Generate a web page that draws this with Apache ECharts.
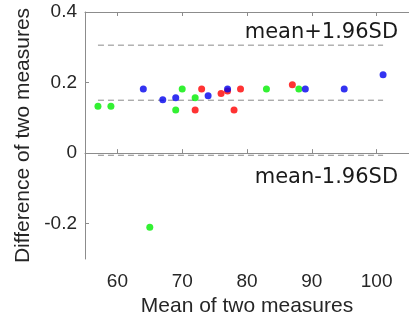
<!DOCTYPE html>
<html>
<head>
<meta charset="utf-8">
<script src="https://cdn.jsdelivr.net/npm/echarts@6/dist/echarts.min.js"></script>
<style>
  html, body { margin: 0; padding: 0; background: #fff; }
  #chart { width: 409px; height: 322px; }
</style>
</head>
<body>
<div id="chart"></div>
<script>
// Bland-Altman style data: [mean of two measures, difference]
const redPoints = [[73, 0.182], [72, 0.122], [76, 0.169], [77, 0.176], [79, 0.182], [78, 0.122], [87, 0.194]];
const greenPoints = [[57, 0.133], [59, 0.133], [65, -0.21], [69, 0.122], [70, 0.182], [72, 0.157], [83, 0.182], [88, 0.182]];
const bluePoints = [[64, 0.182], [67, 0.151], [69, 0.157], [74, 0.163], [77, 0.182], [89, 0.182], [95, 0.182], [101, 0.222]];

const limitRange = [57, 101];
const meanDiff = 0.150;
const upperLimit = 0.306;
const lowerLimit = -0.006;

const xTicks = [60, 70, 80, 90, 100];
const yTicks = [-0.2, 0, 0.2, 0.4];

const chart = echarts.init(document.getElementById("chart"));

const axisColor = "#8c8c8c";
const textColor = "#262626";
const labelFont = "Liberation Sans";

const dashedLine = (y, label) => ({
  type: "line",
  data: [
    [limitRange[0], y],
    label ? { value: [limitRange[1], y], label } : [limitRange[1], y],
  ],
  symbol: "circle",
  symbolSize: 1,
  itemStyle: { color: "rgba(0,0,0,0)" },
  lineStyle: { color: "#8a8a8a", width: 1, type: [6, 4] },
  silent: true,
  z: 1,
});

const annotation = (text, position, offset) => ({
  show: true,
  formatter: text,
  position,
  align: "right",
  offset,
  fontFamily: "DejaVu Sans",
  fontSize: 21,
  color: "#1a1a1a",
});

const dots = (data, color) => ({
  type: "scatter",
  data,
  symbolSize: 7,
  itemStyle: { color },
  z: 3,
});

chart.setOption({
  animation: false,
  grid: { left: 85, top: 12, right: -7, bottom: 63 },
  xAxis: [
    {
      type: "value",
      min: 55,
      max: 105,
      name: "Mean of two measures",
      nameLocation: "middle",
      nameGap: 31,
      nameTextStyle: { fontFamily: labelFont, fontSize: 21, color: textColor },
      axisLine: { lineStyle: { color: axisColor } },
      axisTick: { inside: true, length: 4, customValues: xTicks, lineStyle: { color: axisColor } },
      axisLabel: { customValues: xTicks, margin: 13, fontFamily: labelFont, fontSize: 19, color: textColor },
      splitLine: { show: false },
    },
    {
      type: "value",
      position: "top",
      min: 55,
      max: 105,
      axisLine: { show: true, onZero: false, lineStyle: { color: axisColor } },
      axisTick: { inside: true, length: 4, customValues: xTicks, lineStyle: { color: axisColor } },
      axisLabel: { show: false },
      splitLine: { show: false },
    },
  ],
  yAxis: {
    type: "value",
    min: -0.3,
    max: 0.4,
    name: "Difference of two measures",
    nameLocation: "middle",
    nameGap: 47,
    nameTextStyle: { fontFamily: labelFont, fontSize: 21, color: textColor },
    axisLine: { show: true, onZero: false, lineStyle: { color: axisColor } },
    axisTick: { show: true, inside: true, length: 4, customValues: yTicks, lineStyle: { color: axisColor } },
    axisLabel: {
      customValues: yTicks,
      margin: 8,
      fontFamily: labelFont,
      fontSize: 19,
      color: textColor,
      formatter: (v) => (Math.abs(v) < 1e-9 ? "0" : String(Math.round(v * 10) / 10)),
    },
    splitLine: { show: false },
  },
  series: [
    dashedLine(upperLimit, annotation("mean+1.96SD", "top", [15, 3])),
    dashedLine(meanDiff),
    dashedLine(lowerLimit, annotation("mean-1.96SD", "bottom", [15, 6])),
    dots(redPoints, "#ff0000"),
    dots(greenPoints, "#00ee00"),
    dots(bluePoints, "#0000ee"),
  ],
});
</script>
</body>
</html>
